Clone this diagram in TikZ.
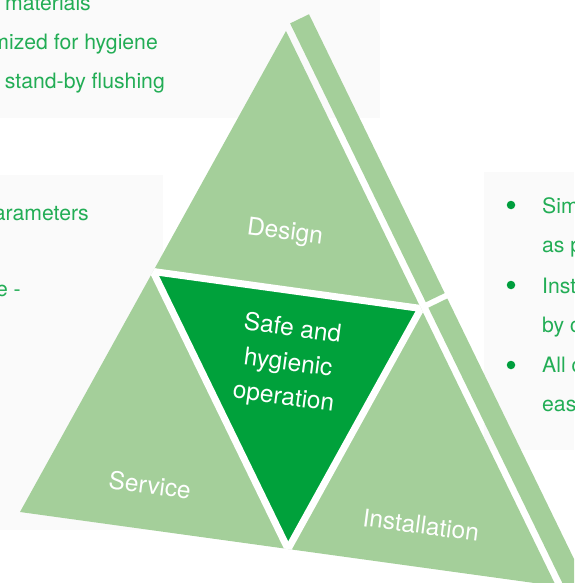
\documentclass[tikz,border=0pt]{standalone}
\usepackage{fontspec}
\setmainfont{TeX Gyre Heros}
\usetikzlibrary{calc}
\definecolor{lightg}{HTML}{A4CF9A}
\definecolor{darkg}{HTML}{00A13B}
\definecolor{txtg}{HTML}{22AD55}
\definecolor{bulg}{HTML}{009E3D}
\definecolor{panelg}{HTML}{FAFAFA}
\begin{document}
\begin{tikzpicture}[x=1pt,y=-1pt,
  paneltxt/.style={inner sep=0pt,text=txtg,font=\fontsize{21.2}{24}\selectfont},
  lbl/.style={inner sep=0pt,text=white,font=\fontsize{24.5}{34.5}\selectfont,rotate=-7.5,align=center},
  bul/.style={circle,fill=bulg,inner sep=0pt,minimum size=8.5pt},
  gapline/.style={draw=white,line width=7pt,shorten <=-12pt,shorten >=-12pt}]
\useasboundingbox (0,0) rectangle (574,583);
\clip (0,0) rectangle (574,583);
% background panels
\fill[panelg] (0,0) rectangle (380,118);
\fill[panelg] (0,175) rectangle (163,530);
\fill[panelg] (484,172) rectangle (574,450);
% panel texts
\node[paneltxt,anchor=base east] (t1) at (91,11) {t materials};
\node[paneltxt,anchor=base east] (t2) at (158,50) {mized for hygiene};
\node[paneltxt,anchor=base east] (t3) at (165,89) {stand-by flushing};
\node[paneltxt,anchor=base east] (l1) at (89,220) {arameters};
\node[paneltxt,anchor=base east] (l2) at (21,296) {e -};
\node[bul] (b1) at (511,205) {};
\node[bul] (b2) at (511,285) {};
\node[bul] (b3) at (511,365) {};
\node[paneltxt,anchor=base west] (r1) at (542,213) {Sim};
\node[paneltxt,anchor=base west] (r2) at (542,252) {as p};
\node[paneltxt,anchor=base west] (r3) at (542,293) {Inst};
\node[paneltxt,anchor=base west] (r4) at (542,332) {by c};
\node[paneltxt,anchor=base west] (r5) at (542,372) {All c};
\node[paneltxt,anchor=base west] (r6) at (542,411) {eas};
% triangle
\coordinate (A) at (286,31);
\coordinate (B) at (20,512);
\coordinate (C) at (556,586);
\coordinate (MAB) at ($(A)!0.5!(B)$);
\coordinate (MAC) at ($(A)!0.5!(C)$);
\coordinate (MBC) at ($(B)!0.5!(C)$);
\fill[lightg] (A) -- (B) -- (C) -- cycle;
\fill[darkg] (MAB) -- (MAC) -- (MBC) -- cycle;
\begin{scope}
  \clip (A) -- (B) -- (C) -- cycle;
  \draw[gapline] (MAB) -- (MAC);
  \draw[gapline] (MAC) -- (MBC);
  \draw[gapline] (MBC) -- (MAB);
\end{scope}
% side band
\fill[lightg] (290.1,23.4) -- (309.0,14.25) -- (444.7,293.1) -- (425.8,302.2) -- cycle;
\fill[lightg] (428.4,307.7) -- (447.3,298.5) -- (608.8,630.5) -- (589.9,639.6) -- cycle;
% labels
\node[lbl] (design) at (285,233) {Design};
\node[lbl] (safe) at (288,364) {Safe and\\hygienic\\operation};
\node[lbl] (service) at (150,485) {Service};
\node[lbl] (install) at (421,525) {Installation};
\end{tikzpicture}
\end{document}
